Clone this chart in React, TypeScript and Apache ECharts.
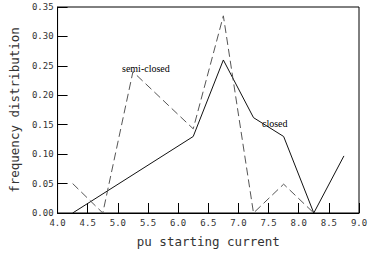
import React, { useEffect, useRef } from "react";
import * as echarts from "echarts";

const closedX = [4.25, 6.25, 6.75, 7.25, 7.75, 8.25, 8.75];
const closedY = [0.0, 0.13, 0.26, 0.162, 0.13, 0.0, 0.097];

const semiX = [4.25, 4.75, 5.25, 6.25, 6.75, 7.25, 7.75, 8.25];
const semiY = [0.05, 0.0, 0.24, 0.143, 0.335, 0.0, 0.049, 0.0];

const xTitle = "pu starting current";
const yTitle = "frequency distribution";
const labelSemi = "semi-closed";
const labelClosed = "closed";

const mono = "DejaVu Sans Mono";

export default function App() {
  const ref = useRef<HTMLDivElement>(null);
  useEffect(() => {
    if (!ref.current) return;
    const chart = echarts.init(ref.current, undefined, { renderer: "svg" });
    chart.setOption({
      animation: false,
      backgroundColor: "#fff",
      grid: {
        left: 39,
        right: 12,
        top: 7,
        bottom: 30,
        show: true,
        borderColor: "#000",
        borderWidth: 1,
        backgroundColor: "transparent",
      },
      xAxis: {
        type: "value",
        min: 4,
        max: 9,
        interval: 0.5,
        name: xTitle,
        nameLocation: "middle",
        nameGap: 22,
        nameTextStyle: { fontFamily: mono, fontSize: 12.5, color: "#333" },
        axisLine: { lineStyle: { color: "#000", width: 1 } },
        axisTick: { inside: true, length: 10, lineStyle: { color: "#000" } },
        axisLabel: {
          fontFamily: mono,
          fontSize: 9,
          color: "#333",
          margin: 5,
          formatter: (v: number) => v.toFixed(1),
        },
        splitLine: { show: false },
      },
      yAxis: {
        type: "value",
        min: 0,
        max: 0.35,
        interval: 0.05,
        name: yTitle,
        nameLocation: "middle",
        nameGap: 34,
        nameTextStyle: { fontFamily: mono, fontSize: 12.5, color: "#333" },
        axisLine: { show: true, lineStyle: { color: "#000", width: 1 } },
        axisTick: { inside: true, length: 10, lineStyle: { color: "#000" } },
        axisLabel: {
          fontFamily: mono,
          fontSize: 9,
          color: "#333",
          margin: 4,
          formatter: (v: number) => v.toFixed(2),
        },
        splitLine: { show: false },
      },
      series: [
        {
          name: labelClosed,
          type: "line",
          data: closedX.map((x, i) => [x, closedY[i]]),
          symbol: "none",
          lineStyle: { color: "#111", width: 1, type: "solid" },
        },
        {
          name: labelSemi,
          type: "line",
          data: semiX.map((x, i) => [x, semiY[i]]),
          symbol: "none",
          lineStyle: { color: "#555", width: 1, type: [8, 4] },
        },
      ],
      graphic: [
        {
          type: "text",
          left: 122,
          top: 63,
          style: {
            text: labelSemi,
            fontFamily: "Liberation Serif",
            fontSize: 10,
            fill: "#000",
          },
        },
        {
          type: "text",
          left: 262,
          top: 118,
          style: {
            text: labelClosed,
            fontFamily: "Liberation Serif",
            fontSize: 10,
            fill: "#000",
          },
        },
      ],
    });
    return () => chart.dispose();
  }, []);
  return (
    <div
      ref={ref}
      style={{ position: "fixed", left: 0, top: 0, width: 371, height: 253 }}
    />
  );
}
